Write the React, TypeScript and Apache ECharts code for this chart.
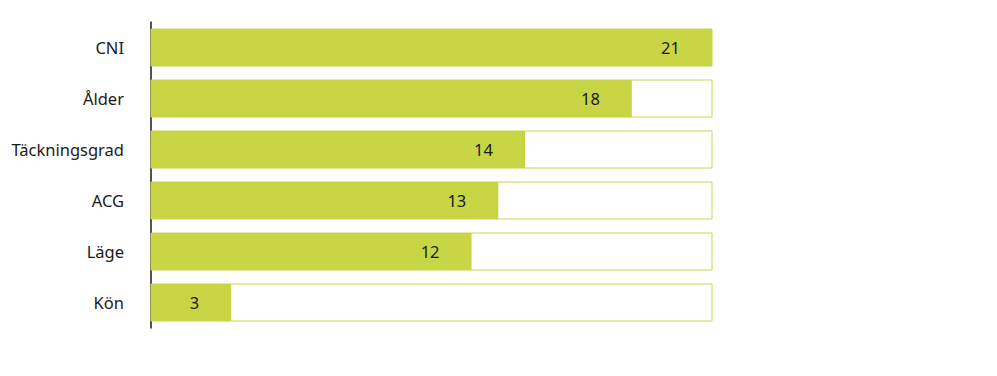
import React, { useEffect, useRef } from "react";
import * as echarts from "echarts";

const categories = ["CNI", "Ålder", "Täckningsgrad", "ACG", "Läge", "Kön"];
const values = [21, 18, 14, 13, 12, 3];
const axisMax = 21;

const GREEN = "#c8d646";
const FONT = "'Noto Sans', sans-serif";

export default function App() {
  const ref = useRef<HTMLDivElement>(null);
  useEffect(() => {
    if (!ref.current) return;
    const chart = echarts.init(ref.current, null, { renderer: "svg" });
    chart.setOption({
      animation: false,
      grid: { left: 143, right: 277, top: 14, bottom: 40, containLabel: false },
      xAxis: {
        type: "value",
        min: 0,
        max: axisMax,
        show: false,
      },
      yAxis: {
        type: "category",
        data: categories,
        inverse: true,
        z: 0,
        axisLine: { show: true, lineStyle: { color: "#1a1a1a", width: 1.5 } },
        axisTick: { show: false },
        axisLabel: {
          color: "#1a1a1a",
          fontSize: 16.5,
          fontFamily: FONT,
          margin: 27,
        },
      },
      series: [
        {
          type: "bar",
          data: values,
          barWidth: 37,
          z: 5,
          itemStyle: { color: GREEN },
          showBackground: true,
          backgroundStyle: {
            color: "#ffffff",
            borderColor: GREEN,
            borderWidth: 1,
          },
          label: {
            show: true,
            position: "insideRight",
            distance: 32,
            color: "#1a1a1a",
            fontSize: 16.5,
            fontFamily: FONT,
          },
        },
      ],
    });
    return () => chart.dispose();
  }, []);
  return <div ref={ref} style={{ width: 981, height: 360 }} />;
}
